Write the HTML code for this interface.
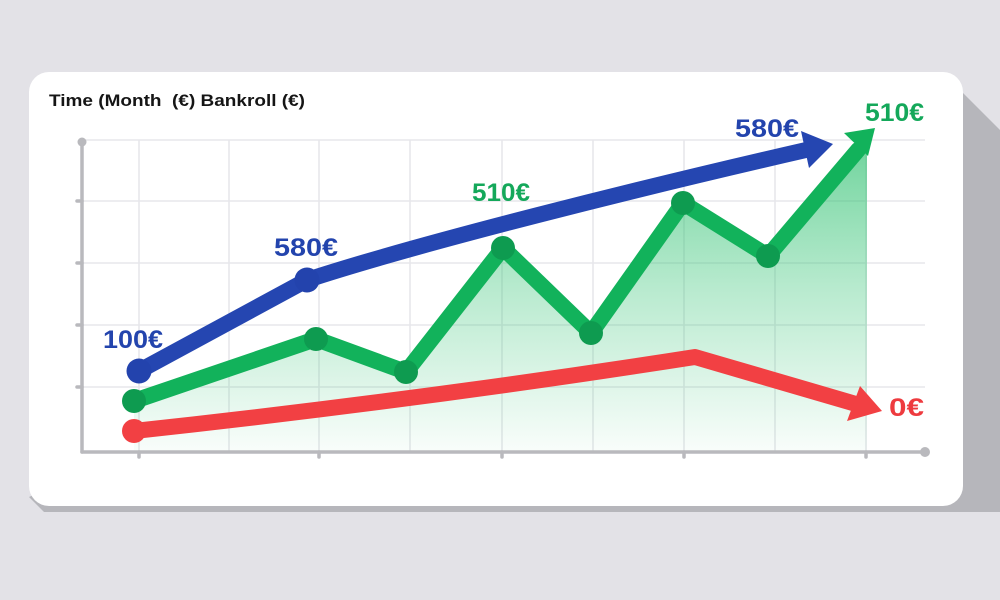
<!DOCTYPE html>
<html>
<head>
<meta charset="utf-8">
<style>
  html, body { margin: 0; padding: 0; width: 1000px; height: 600px; overflow: hidden; background: #e3e2e7; }
  svg { display: block; }
  text { font-family: "Liberation Sans", "DejaVu Sans", sans-serif; font-weight: bold; }
</style>
</head>
<body>
<svg width="1000" height="600" viewBox="0 0 1000 600" xmlns="http://www.w3.org/2000/svg">
  <defs>
    <linearGradient id="gfill" x1="0" y1="130" x2="0" y2="452" gradientUnits="userSpaceOnUse">
      <stop offset="0" stop-color="#2fc070" stop-opacity="0.72"/>
      <stop offset="0.5" stop-color="#3cc67a" stop-opacity="0.36"/>
      <stop offset="1" stop-color="#3cc67a" stop-opacity="0.03"/>
    </linearGradient>
  </defs>

  <!-- background -->
  <rect x="0" y="0" width="1000" height="600" fill="#e3e2e7"/>

  <!-- 3D shadow -->
  <polygon points="950,80 1000,130 1000,512 44,512 29,497" fill="#b6b6bb"/>

  <!-- card -->
  <rect x="29" y="72" width="934" height="434" rx="20" ry="20" fill="#ffffff"/>

  <!-- title -->
  <text x="49" y="106" font-size="17" fill="#151515" xml:space="preserve" textLength="256" lengthAdjust="spacingAndGlyphs">Time (Month  (€) Bankroll (€)</text>

  <!-- grid -->
  <g stroke="#e7e7eb" stroke-width="1.6">
    <line x1="82" y1="140" x2="925" y2="140"/>
    <line x1="82" y1="201" x2="925" y2="201"/>
    <line x1="82" y1="263" x2="925" y2="263"/>
    <line x1="82" y1="325" x2="925" y2="325"/>
    <line x1="82" y1="387" x2="925" y2="387"/>
    <line x1="139" y1="140" x2="139" y2="452"/>
    <line x1="229" y1="140" x2="229" y2="452"/>
    <line x1="319" y1="140" x2="319" y2="452"/>
    <line x1="410" y1="140" x2="410" y2="452"/>
    <line x1="502" y1="140" x2="502" y2="452"/>
    <line x1="593" y1="140" x2="593" y2="452"/>
    <line x1="684" y1="140" x2="684" y2="452"/>
    <line x1="775" y1="140" x2="775" y2="452"/>
    <line x1="866" y1="140" x2="866" y2="452"/>
  </g>

  <!-- green fill -->
  <polygon points="134,401 316,339 406,372 503,248 591,333 683,203 768,256 867,150 867,452 134,452" fill="url(#gfill)"/>

  <!-- axes -->
  <g stroke="#b9b9bd" stroke-width="3.5" stroke-linecap="round">
    <line x1="82" y1="142" x2="82" y2="452"/>
    <line x1="82" y1="452" x2="924" y2="452"/>
    <line x1="77" y1="201" x2="82" y2="201"/>
    <line x1="77" y1="263" x2="82" y2="263"/>
    <line x1="77" y1="325" x2="82" y2="325"/>
    <line x1="77" y1="387" x2="82" y2="387"/>
    <line x1="139" y1="452" x2="139" y2="457"/>
    <line x1="319" y1="452" x2="319" y2="457"/>
    <line x1="502" y1="452" x2="502" y2="457"/>
    <line x1="684" y1="452" x2="684" y2="457"/>
    <line x1="866" y1="452" x2="866" y2="457"/>
  </g>
  <circle cx="82" cy="142" r="4.5" fill="#b9b9bd"/>
  <circle cx="925" cy="452" r="5" fill="#b9b9bd"/>

  <!-- red series -->
  <path d="M134,431 Q420,400 695,357 L856,404" fill="none" stroke="#f24043" stroke-width="16" stroke-linecap="round" stroke-linejoin="round"/>
  <polygon points="882,411 860,386 847,421" fill="#f24043"/>
  <circle cx="134" cy="431" r="12" fill="#f24043"/>

  <!-- green series -->
  <polyline points="134,401 316,339 406,372 503,248 591,333 683,203 768,256 858,150" fill="none" stroke="#12b25b" stroke-width="16" stroke-linecap="round" stroke-linejoin="round"/>
  <polygon points="875,128 844,133 868,156" fill="#12b25b"/>
  <g fill="#0e9b50">
    <circle cx="134" cy="401" r="12"/>
    <circle cx="316" cy="339" r="12"/>
    <circle cx="406" cy="372" r="12"/>
    <circle cx="503" cy="248" r="12"/>
    <circle cx="591" cy="333" r="12"/>
    <circle cx="683" cy="203" r="12"/>
    <circle cx="768" cy="256" r="12"/>
  </g>

  <!-- blue series -->
  <path d="M139,371 L307,280 C420,243 640,188 806,150" fill="none" stroke="#2546b1" stroke-width="16" stroke-linecap="round" stroke-linejoin="round"/>
  <polygon points="833,144 801,131 809,168" fill="#2546b1"/>
  <circle cx="139" cy="371" r="12.5" fill="#2343ad"/>
  <circle cx="307" cy="280" r="12.5" fill="#2343ad"/>

  <!-- labels -->
  <text x="103" y="348" font-size="25" fill="#2344ad" textLength="60" lengthAdjust="spacingAndGlyphs">100€</text>
  <text x="274" y="256" font-size="25" fill="#2344ad" textLength="64" lengthAdjust="spacingAndGlyphs">580€</text>
  <text x="735" y="137" font-size="25" fill="#2344ad" textLength="64" lengthAdjust="spacingAndGlyphs">580€</text>
  <text x="472" y="201" font-size="25" fill="#14a85a" textLength="58" lengthAdjust="spacingAndGlyphs">510€</text>
  <text x="865" y="121" font-size="25" fill="#14a85a" textLength="59" lengthAdjust="spacingAndGlyphs">510€</text>
  <text x="889" y="416" font-size="25" fill="#ee3b3f" textLength="35" lengthAdjust="spacingAndGlyphs">0€</text>
</svg>
</body>
</html>
